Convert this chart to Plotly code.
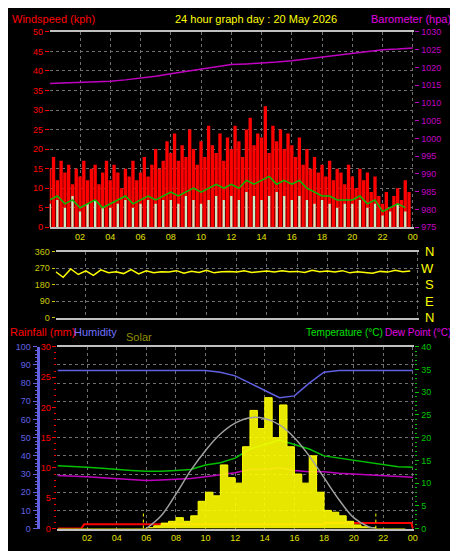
import plotly.graph_objects as go

# --- data ---
hours_q = [i * 0.25 for i in range(96)]
gust = [15, 18, 12, 17, 14, 16, 11, 15,
        13, 17, 12, 15, 16, 11, 14, 17,
        12, 16, 14, 10, 15, 13, 17, 12,
        14, 18, 13, 16, 20, 15, 17, 22,
        19, 24, 17, 21, 18, 25, 20, 16,
        22, 18, 26, 21, 19, 24, 17, 23,
        20, 26, 22, 18, 25, 28, 21, 24,
        23, 31, 19, 26, 22, 25, 20, 24,
        21, 18, 23, 16, 20, 15, 18, 14,
        16, 13, 17, 12, 15, 14, 11, 16,
        13, 10, 15, 12, 14, 9, 13, 8,
        6, 9, 5, 8, 10, 7, 12, 9]

hours_h = [i * 0.5 for i in range(48)]
wind_avg = [7, 8, 6, 7, 5, 6, 7, 5, 6, 7, 8, 6, 7, 8, 7, 8, 9, 8, 9, 10, 9, 10, 11, 10,
            11, 10, 12, 11, 12, 13, 11, 12, 11, 12, 10, 9, 8, 8, 7, 7, 7, 8, 6, 7, 4, 5, 6, 5]
wind_spd = [6, 7, 5, 8, 4, 6, 7, 5, 5, 6, 7, 5, 6, 7, 6, 7, 7, 6, 8, 7, 6, 7, 8, 7,
            8, 7, 9, 8, 7, 8, 9, 8, 7, 8, 7, 6, 7, 6, 5, 6, 6, 7, 5, 6, 3, 4, 6, 4]
wind_dir = [250, 220, 265, 235, 255, 230, 260, 245, 250, 240, 262, 238, 255, 245, 250, 248,
            256, 242, 252, 246, 258, 244, 250, 252, 248, 255, 246, 250, 254, 248, 256, 250,
            252, 246, 258, 250, 254, 248, 256, 244, 250, 246, 242, 252, 248, 258, 250, 254]

hours = list(range(25))
baro = [1015.5, 1015.6, 1015.7, 1015.9, 1016.1, 1016.5, 1016.9, 1017.5, 1018.2, 1018.9,
        1019.5, 1020.3, 1020.8, 1021.0, 1021.2, 1021.5, 1021.9, 1022.4, 1022.9, 1023.4,
        1023.9, 1024.4, 1025.0, 1025.2, 1025.5]
humidity = [87, 87, 87, 87, 87, 87, 87, 87, 87, 87, 87, 86, 84, 80, 76, 72, 73, 80, 86, 87,
            87, 87, 87, 87, 87]
temp = [13.8, 13.7, 13.5, 13.3, 13.0, 12.8, 12.6, 12.6, 12.8, 13.0, 14.0, 14.5, 15.5, 17.5,
        18.5, 19.5, 18.5, 17.5, 16.0, 15.5, 15.0, 14.5, 14.0, 13.6, 13.5]
dew = [11.7, 11.6, 11.4, 11.2, 11.0, 10.8, 10.6, 10.7, 10.9, 11.0, 11.4, 11.8, 12.3, 13.0,
       13.0, 13.4, 12.8, 12.5, 12.5, 12.2, 12.0, 11.8, 11.6, 11.4, 11.3]
solar = [0] * 12 + [5, 15, 30, 40, 60, 40, 70, 150, 200, 180, 350, 280, 250, 450, 650, 550,
                    720, 500, 680, 450, 300, 250, 400, 200, 100, 90, 70, 40, 20, 10, 5] + [0] * 5
solar_max_t = [6, 7, 8, 9, 10, 11, 12, 13, 14, 15, 16, 17, 18, 19, 20, 21, 21.5]
solar_max = [0, 70, 190, 320, 430, 520, 580, 610, 605, 570, 500, 400, 280, 160, 60, 10, 0]
rain_t = [0, 1.6, 1.8, 18, 18.1, 23.9, 24]
rain = [0, 0, 0.7, 0.7, 0.9, 0.9, 0]
sun_times = [5.8, 21.5]

tickvals = list(range(2, 25, 2))
ticktext = ["%02d" % (h % 24) for h in tickvals]

fig = go.Figure()
fig.add_trace(go.Bar(x=hours_q, y=gust, width=0.22, marker_color="red", marker_line_width=0))
fig.add_trace(go.Bar(x=hours_h, y=wind_spd, width=0.15, marker_color="#c8f0c8", marker_line_width=0))
fig.add_trace(go.Scatter(x=hours_h, y=wind_avg, mode="lines", line=dict(color="#00c000", width=1.5)))
fig.add_trace(go.Scatter(x=hours, y=baro, yaxis="y2", mode="lines", line=dict(color="#c000c0", width=1.5)))
fig.add_trace(go.Scatter(x=hours_h, y=wind_dir, xaxis="x2", yaxis="y3", mode="lines",
                         line=dict(color="yellow", width=1.5)))
fig.add_trace(go.Scatter(x=hours_h, y=solar, xaxis="x3", yaxis="y7", mode="lines", fill="tozeroy",
                         line=dict(color="yellow", width=1, shape="hv"), fillcolor="rgba(255,255,0,0.9)"))
fig.add_trace(go.Scatter(x=solar_max_t, y=solar_max, xaxis="x3", yaxis="y7", mode="lines",
                         line=dict(color="#a0a0a0", width=1.5, shape="spline")))
for s in sun_times:
    fig.add_trace(go.Scatter(x=[s, s], y=[0, 100], xaxis="x3", yaxis="y7", mode="lines",
                             line=dict(color="yellow", width=1, dash="dot")))
fig.add_trace(go.Scatter(x=hours, y=humidity, xaxis="x3", yaxis="y5", mode="lines",
                         line=dict(color="#6060e0", width=1.5)))
fig.add_trace(go.Scatter(x=hours, y=temp, xaxis="x3", yaxis="y6", mode="lines",
                         line=dict(color="#00c000", width=1.5)))
fig.add_trace(go.Scatter(x=hours, y=dew, xaxis="x3", yaxis="y6", mode="lines",
                         line=dict(color="#c000c0", width=1.5)))
fig.add_trace(go.Scatter(x=rain_t, y=rain, xaxis="x3", yaxis="y4", mode="lines",
                         line=dict(color="red", width=2)))

grid = dict(gridcolor="#707070", griddash="dot", gridwidth=1)
xcommon = dict(range=[0, 24.1], tickvals=tickvals, ticktext=ticktext, zeroline=False,
               tickfont=dict(color="#e0e000", size=9), showline=True, linecolor="#c0c0c0",
               linewidth=2, mirror=True, ticks="", **grid)

fig.update_layout(
    width=458, height=551, margin=dict(l=0, r=0, t=0, b=0),
    paper_bgcolor="black", plot_bgcolor="black", showlegend=False, barmode="overlay",
    font=dict(family="Liberation Sans", size=11),
    xaxis=dict(domain=[0.092, 0.895], anchor="y", **xcommon),
    yaxis=dict(domain=[0.604, 0.965], range=[0, 50], dtick=5, tickcolor="red",
               tickfont=dict(color="red", size=9), showline=False, zeroline=False,
               ticks="outside", ticklen=4, **grid),
    yaxis2=dict(overlaying="y", side="right", range=[975, 1030], dtick=5, showgrid=False,
                tickcolor="#c000c0", tickfont=dict(color="#c000c0", size=9),
                zeroline=False, ticks="outside", ticklen=4),
    xaxis2=dict(domain=[0.105, 0.906], anchor="y3", showticklabels=False,
                **{k: v for k, v in xcommon.items() if k != "tickfont"}),
    yaxis3=dict(domain=[0.437, 0.559], anchor="x2", range=[0, 360], tickvals=[0, 90, 180, 270, 360],
                tickcolor="#c8c800", tickfont=dict(color="#c8c800", size=9), showgrid=True,
                zeroline=False, ticks="outside", ticklen=3, **grid),
    xaxis3=dict(domain=[0.109, 0.895], anchor="y4", **xcommon),
    yaxis4=dict(domain=[0.047, 0.383], anchor="x3", range=[0, 30], dtick=5, showgrid=False,
                tickcolor="red", tickfont=dict(color="red", size=9), zeroline=False,
                ticks="outside", ticklen=4, minor=dict(dtick=1, ticks="outside", ticklen=2, tickcolor="red")),
    yaxis5=dict(overlaying="y4", anchor="free", position=0.065, range=[0, 100], dtick=10,
                tickcolor="#6060e0", tickfont=dict(color="#6060e0", size=9), showline=True,
                linecolor="#6060e0", linewidth=3, zeroline=False, ticks="outside", ticklen=4,
                minor=dict(dtick=2, ticks="outside", ticklen=2, tickcolor="#6060e0"), **grid),
    yaxis6=dict(overlaying="y4", side="right", range=[0, 40], dtick=5, showgrid=False,
                tickcolor="#00c000", tickfont=dict(color="#00c000", size=9), zeroline=False,
                ticks="outside", ticklen=4, minor=dict(dtick=1, ticks="outside", ticklen=2, tickcolor="#00c000")),
    yaxis7=dict(overlaying="y4", range=[0, 1000], visible=False),
)

labels = [
    (3, 551 - 6, "Windspeed (kph)", "red", "left", 11),
    (250, 551 - 6, "24 hour graph day : 20 May 2026", "yellow", "center", 11),
    (448, 551 - 6, "Barometer (hpa)", "#e000e0", "right", 11),
    (1, 551 - 325, "Rainfall (mm)", "red", "left", 11),
    (66, 551 - 325, "Humidity", "#7070ff", "left", 11),
    (118, 551 - 330, "Solar", "#909000", "left", 11),
    (300, 551 - 325, "Temperature (°C)", "#00e000", "left", 10),
    (448, 551 - 325, "Dew Point (°C)", "#e000e0", "right", 10),
]
for x, y, t, c, a, s in labels:
    fig.add_annotation(x=x / 458, y=y / 551, xref="paper", yref="paper", text=t, showarrow=False,
                       font=dict(color=c, size=s), xanchor=a, yanchor="middle", borderpad=0)
for i, d in enumerate(["N", "W", "S", "E", "N"]):
    fig.add_annotation(x=432 / 458, y=(551 - 243 - i * 16.8) / 551, xref="paper", yref="paper",
                       text=d, showarrow=False, font=dict(color="yellow", size=13))

fig.write_html("out.html")
